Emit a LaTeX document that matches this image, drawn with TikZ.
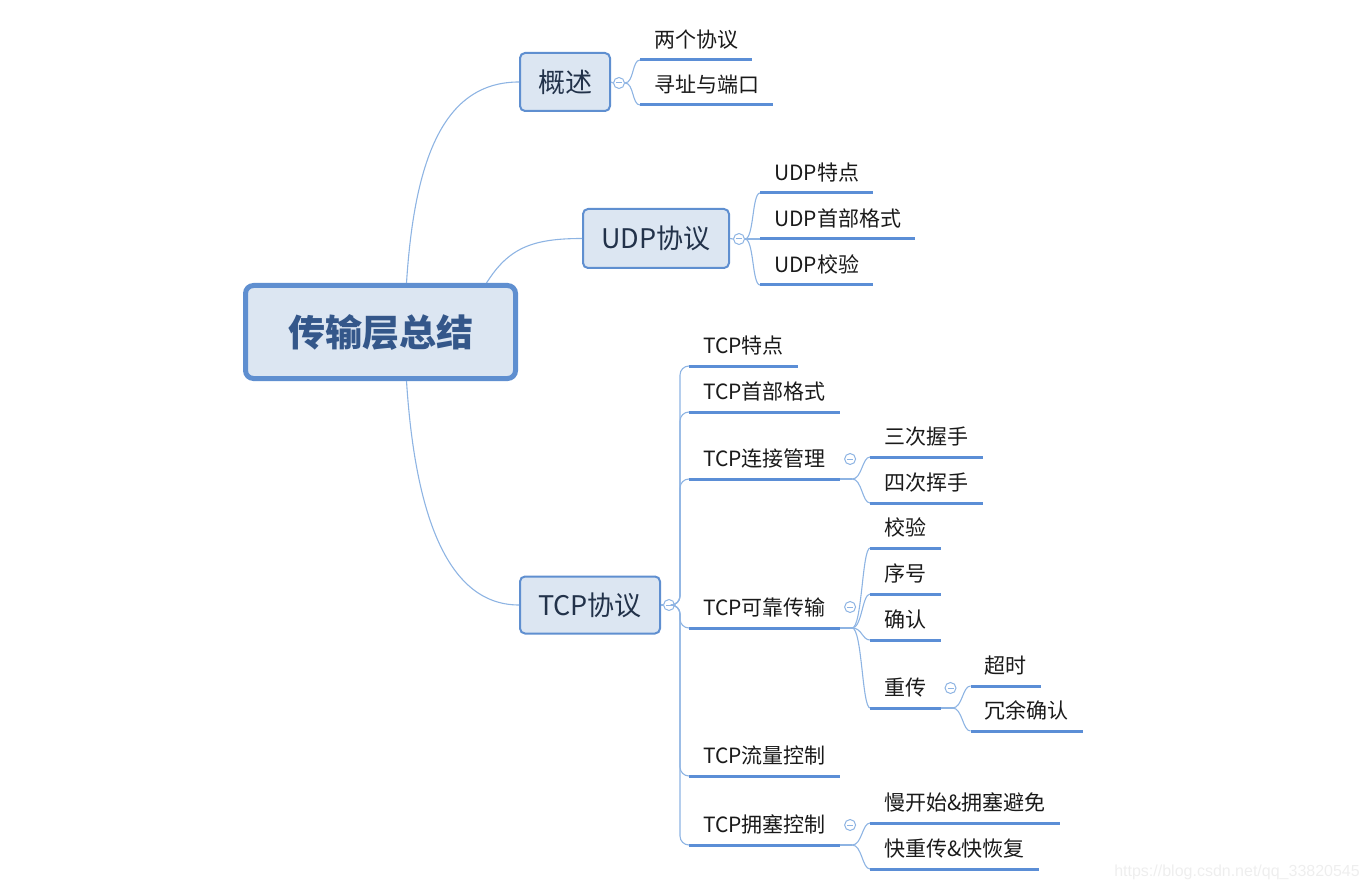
\documentclass[tikz,border=0pt]{standalone}
\usepackage{fontspec}
\setmainfont{Noto Sans CJK SC}
\newfontfamily\wmfont{Liberation Sans}
\usetikzlibrary{calc}
\definecolor{boxfill}{HTML}{DCE6F2}
\definecolor{boxborder}{HTML}{5F8FD0}
\definecolor{centraltext}{HTML}{34578A}
\definecolor{boxtext}{HTML}{22324A}
\definecolor{leaftext}{HTML}{1A1A1A}
\definecolor{ulinecol}{HTML}{5B8ED6}
\definecolor{conncol}{HTML}{8EB4E3}
\definecolor{wmcol}{HTML}{EEEEEE}
\begin{document}
\begin{tikzpicture}[x=1pt,y=-1pt,
  centralbox/.style={draw=boxborder, line width=5pt, fill=boxfill, rounded corners=8pt, inner sep=0pt,
    minimum width=270pt, minimum height=93pt, text=centraltext, font=\fontsize{37}{42}\selectfont\bfseries},
  topicbox/.style={draw=boxborder, line width=2pt, fill=boxfill, rounded corners=5pt, inner sep=0pt,
    text=boxtext, font=\fontsize{27}{32}\selectfont},
  leaf/.style={anchor=south west, inner xsep=14pt, inner ysep=0pt, text height=16pt, text depth=12.5pt,
    text=leaftext, font=\fontsize{21}{25}\selectfont},
  uline/.style={draw=ulinecol, line width=3pt},
  conn/.style={draw=conncol, line width=1.1pt},
  fold/.style={circle, draw=conncol, fill=white, line width=1pt, minimum size=11pt, inner sep=0pt,
    path picture={\draw[conncol, line width=1pt] ([xshift=-3pt]path picture bounding box.center) -- ([xshift=3pt]path picture bounding box.center);}},
  wm/.style={text=wmcol, font=\wmfont\fontsize{16}{18}\selectfont, inner sep=0pt}
]
\useasboundingbox (0,0) rectangle (1372,890);

% main boxes
\node[centralbox] (central) at (380.5,332) {传输层总结};
\node[topicbox, minimum width=90pt, minimum height=58pt] (gs) at (565,82) {概述};
\node[topicbox, minimum width=146pt, minimum height=59pt] (udp) at (656,238.5) {UDP协议};
\node[topicbox, minimum width=140pt, minimum height=57pt] (tcp) at (590,605) {TCP协议};

% central connectors
\draw[conn] ([xshift=26pt]central.north) .. controls +(8,-125) and +(-75,0) .. (gs.west);
\draw[conn] ([xshift=106pt]central.north) .. controls +(22,-35) and +(-50,0) .. (udp.west);
\draw[conn] ([xshift=26pt]central.south) .. controls +(8,125) and +(-75,0) .. (tcp.west);

% overview
\node[fold] (fgs) at (619,83) {};
\node[leaf] (g1) at (640,60) {两个协议};
\node[leaf] (g2) at (640,105) {寻址与端口};
\draw[conn] (gs.east) -- (fgs.west);
\foreach \n in {g1,g2}{
  \draw[conn] (fgs.east) .. controls +(9,0) and +(-8,0) .. (\n.south west);
  \draw[uline] (\n.south west) -- (\n.south east);
}

% UDP
\node[fold] (fudp) at (739,239) {};
\node[leaf] (u1) at (760,193) {UDP特点};
\node[leaf] (u2) at (760,239) {UDP首部格式};
\node[leaf] (u3) at (760,285) {UDP校验};
\draw[conn] (udp.east) -- (fudp.west);
\foreach \n in {u1,u2,u3}{
  \draw[conn] (fudp.east) .. controls +(9,0) and +(-8,0) .. (\n.south west);
  \draw[uline] (\n.south west) -- (\n.south east);
}

% TCP
\node[fold] (ftcp) at (669,605) {};
\coordinate (tcpb) at ($(ftcp.east)+(5,0)$);
\node[leaf] (t1) at (689,366) {TCP特点};
\node[leaf] (t2) at (689,412) {TCP首部格式};
\node[leaf] (t3) at (689,479) {TCP连接管理};
\node[leaf] (t4) at (689,628) {TCP可靠传输};
\node[leaf] (t5) at (689,776) {TCP流量控制};
\node[leaf] (t6) at (689,845) {TCP拥塞控制};
\draw[conn] (tcp.east) -- (ftcp.west);
\foreach \n in {t1,t2,t3,t4,t5,t6}{
  \draw[conn, rounded corners=9pt] (ftcp.east) -- (tcpb) |- (\n.south west);
  \draw[uline] (\n.south west) -- (\n.south east);
}

% connection management
\node[fold] (ft3) at ($(t3.south east)+(10,-20)$) {};
\coordinate (t3b) at ($(t3.south east)+(12,0)$);
\node[leaf] (c1) at ($(t3.south east)+(30,-22)$) {三次握手};
\node[leaf] (c2) at ($(t3.south east)+(30,24)$) {四次挥手};
\draw[conn] (t3.south east) -- (t3b);
\foreach \n in {c1,c2}{
  \draw[conn] (t3b) .. controls +(10,0) and +(-8,0) .. (\n.south west);
  \draw[uline] (\n.south west) -- (\n.south east);
}

% reliable transfer
\node[fold] (ft4) at ($(t4.south east)+(10,-21)$) {};
\coordinate (t4b) at ($(t4.south east)+(12,0)$);
\node[leaf] (r1) at ($(t4.south east)+(30,-80)$) {校验};
\node[leaf] (r2) at ($(t4.south east)+(30,-34)$) {序号};
\node[leaf] (r3) at ($(t4.south east)+(30,12)$) {确认};
\node[leaf] (r4) at ($(t4.south east)+(30,80)$) {重传};
\draw[conn] (t4.south east) -- (t4b);
\foreach \n in {r1,r2,r3,r4}{
  \draw[conn] (t4b) .. controls +(10,0) and +(-8,0) .. (\n.south west);
  \draw[uline] (\n.south west) -- (\n.south east);
}

% retransmission
\node[fold] (fr4) at ($(r4.south east)+(10,-20)$) {};
\coordinate (r4b) at ($(r4.south east)+(12,0)$);
\node[leaf] (s1) at ($(r4.south east)+(30,-22)$) {超时};
\node[leaf] (s2) at ($(r4.south east)+(30,23)$) {冗余确认};
\draw[conn] (r4.south east) -- (r4b);
\foreach \n in {s1,s2}{
  \draw[conn] (r4b) .. controls +(10,0) and +(-8,0) .. (\n.south west);
  \draw[uline] (\n.south west) -- (\n.south east);
}

% congestion control
\node[fold] (ft6) at ($(t6.south east)+(10,-20)$) {};
\coordinate (t6b) at ($(t6.south east)+(12,0)$);
\node[leaf] (k1) at ($(t6.south east)+(30,-22)$) {慢开始\&拥塞避免};
\node[leaf] (k2) at ($(t6.south east)+(30,24)$) {快重传\&快恢复};
\draw[conn] (t6.south east) -- (t6b);
\foreach \n in {k1,k2}{
  \draw[conn] (t6b) .. controls +(10,0) and +(-8,0) .. (\n.south west);
  \draw[uline] (\n.south west) -- (\n.south east);
}

% watermark
\node[wm, anchor=east] (wm) at (1360,872) {https://blog.csdn.net/qq\_33820545};
\end{tikzpicture}
\end{document}
